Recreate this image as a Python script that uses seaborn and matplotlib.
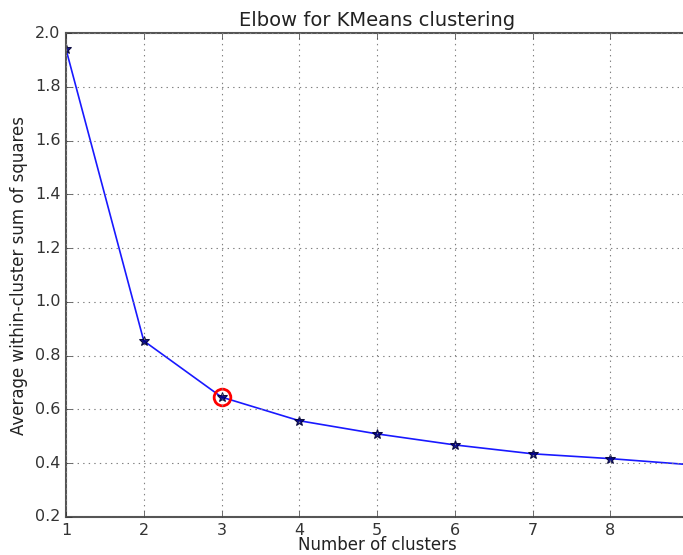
import seaborn as sns
import matplotlib.pyplot as plt
import pandas as pd

# number of clusters tried and average within-cluster sum of squares
n_clusters = [1, 2, 3, 4, 5, 6, 7, 8, 9]
avg_withinss = [1.94, 0.855, 0.646, 0.558, 0.509, 0.468, 0.435, 0.417, 0.395]
elbow_k = 3

df = pd.DataFrame({'k': n_clusters, 'withinss': avg_withinss})

plt.style.use('classic')
plt.rcParams['font.family'] = ['DejaVu Sans']
plt.rcParams['text.color'] = '#222222'
plt.rcParams['axes.labelcolor'] = '#222222'
plt.rcParams['xtick.color'] = '#333333'
plt.rcParams['ytick.color'] = '#333333'

fig = plt.figure(figsize=(6.83, 5.55), dpi=100, facecolor='white')
ax = fig.add_axes([0.0966, 0.0685, 0.911, 0.872])

sns.lineplot(data=df, x='k', y='withinss', ax=ax, color='b', marker='*',
             markersize=7, markeredgecolor='#000033', markerfacecolor='#000080',
             linewidth=1.2, alpha=0.9)
elbow = df[df['k'] == elbow_k]
ax.plot(elbow['k'], elbow['withinss'], marker='o', markersize=12,
        markeredgewidth=2, markeredgecolor='r', markerfacecolor='None')

ax.set_xlim(1, 9)
ax.set_ylim(0.2, 2.0)
ax.grid(True, color='grey', linestyle=':', linewidth=0.8)
ax.set_xlabel('Number of clusters', fontsize=12, labelpad=-1)
ax.set_ylabel('Average within-cluster sum of squares', fontsize=12)
ax.set_title('Elbow for KMeans clustering', fontsize=14)
ax.tick_params(labelsize=11.5)
for s in ax.spines.values():
    s.set_color('#555555')
    s.set_linewidth(1.5)

fig.savefig('out.png', dpi=100, facecolor='white')
